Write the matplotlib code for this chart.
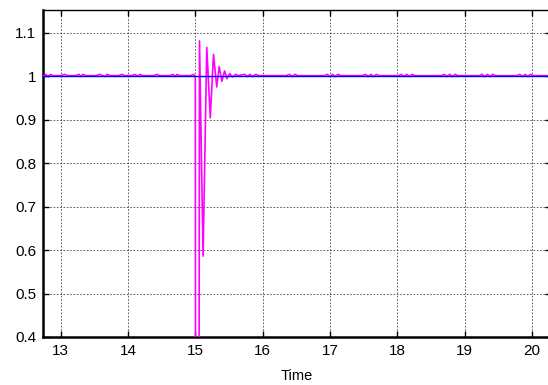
import matplotlib
matplotlib.use("Agg")
import matplotlib.pyplot as plt

plt.rcParams['font.family'] = ['Liberation Sans', 'DejaVu Sans']

# Blue reference signal
ref_time = [12.70, 20.30]
ref_vals = [1.0, 1.0]

# Magenta response signal
resp_time = [12.74, 12.76, 12.78, 12.81, 12.85, 12.88, 13.00, 13.06, 13.10, 13.22,
             13.27, 13.30, 13.33, 13.37, 13.52, 13.58, 13.62, 13.66, 13.69, 13.73,
             13.86, 13.91, 13.95, 14.06, 14.10, 14.14, 14.18, 14.22, 14.38, 14.43,
             14.47, 14.62, 14.67, 14.70, 14.73, 14.77, 14.93, 14.97, 15.00, 15.003,
             15.055, 15.062, 15.115, 15.17, 15.222, 15.27, 15.318, 15.355, 15.395, 15.435,
             15.47, 15.51, 15.55, 15.60, 15.64, 15.73, 15.77, 15.81, 15.85, 15.90,
             15.94, 16.35, 16.40, 16.44, 16.48, 16.52, 16.92, 16.96, 17.00, 17.04,
             17.08, 17.12, 17.16, 17.48, 17.53, 17.57, 17.61, 17.65, 17.69, 17.73,
             18.02, 18.06, 18.10, 18.14, 18.18, 18.22, 18.26, 18.66, 18.70, 18.74,
             18.78, 18.82, 18.86, 18.90, 19.22, 19.26, 19.30, 19.34, 19.38, 19.42,
             19.46, 19.78, 19.82, 19.86, 19.90, 19.94, 19.98, 20.02, 20.30]
resp_vals = [1.001, 0.999, 1.004, 0.999, 1.004, 1.001, 1.001, 1.004, 1.001, 1.001,
             1.004, 0.999, 1.004, 1.001, 1.001, 1.004, 1.001, 0.999, 1.004, 1.001,
             1.001, 1.004, 1.001, 1.001, 1.004, 1.000, 1.004, 1.001, 1.001, 1.004,
             1.001, 1.001, 1.004, 0.999, 1.004, 1.001, 1.001, 1.004, 1.000, 0.250,
             0.250, 1.081, 0.586, 1.066, 0.904, 1.050, 0.975, 1.022, 0.988, 1.012,
             0.994, 1.006, 0.998, 1.004, 1.001, 1.004, 0.999, 1.004, 0.999, 1.004,
             1.001, 1.001, 1.004, 0.999, 1.004, 1.001, 1.001, 1.004, 0.999, 1.004,
             0.999, 1.004, 1.001, 1.001, 1.004, 0.999, 1.004, 0.999, 1.004, 1.001,
             1.001, 1.004, 0.999, 1.004, 0.999, 1.004, 1.001, 1.001, 1.004, 0.999,
             1.004, 0.999, 1.004, 1.001, 1.001, 1.004, 0.999, 1.004, 0.999, 1.004,
             1.001, 1.001, 1.004, 0.999, 1.004, 0.999, 1.004, 1.001, 1.001]

x_ticks = [13, 14, 15, 16, 17, 18, 19, 20]
y_ticks = [0.4, 0.5, 0.6, 0.7, 0.8, 0.9, 1.0, 1.1]
y_tick_labels = ['0.4', '0.5', '0.6', '0.7', '0.8', '0.9', '1', '1.1']

fig = plt.figure(figsize=(5.48, 3.85), dpi=100)
ax = fig.add_axes([43.3 / 548, 1 - 337 / 385, (551 - 43.3) / 548, (337 - 10) / 385])

ax.plot(resp_time, resp_vals, color='#FF00FF', lw=1.2, zorder=3)
ax.plot(ref_time, ref_vals, color='#0000FF', lw=1.0, zorder=4)

ax.set_xlim(12.741, 20.285)
ax.set_ylim(0.4, 1.152)
ax.set_xticks(x_ticks)
ax.set_yticks(y_ticks)
ax.set_yticklabels(y_tick_labels)

ax.grid(True, color='#444444', linestyle=(0, (2, 2)), linewidth=0.6)
ax.tick_params(direction='in', length=4, width=1, top=True, right=True,
               labelsize=11, pad=5, colors='black')
for side in ['left', 'bottom']:
    ax.spines[side].set_linewidth(1.8)
ax.spines['top'].set_linewidth(1.0)
ax.spines['right'].set_linewidth(1.0)

ax.set_xlabel('Time', fontsize=10.5, labelpad=8)

fig.savefig('out.png', dpi=100)
